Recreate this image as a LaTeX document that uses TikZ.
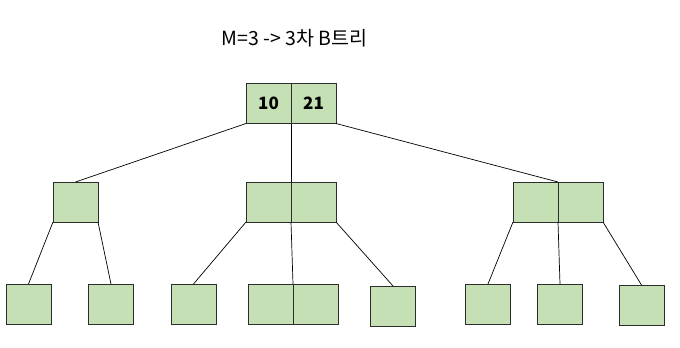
\documentclass[tikz,border=0pt]{standalone}
\usepackage{fontspec}
\setmainfont{Noto Sans CJK KR}
\definecolor{cellgreen}{RGB}{197,224,180}
\definecolor{celledge}{RGB}{45,45,45}
\tikzset{
  cell/.style={draw=celledge, fill=cellgreen, minimum width=45pt, minimum height=40pt,
    inner sep=0pt, outer sep=0pt, line width=0.9pt, font=\fontsize{17}{19}\selectfont\bfseries},
  link/.style={draw=black, line width=0.7pt}
}
\begin{document}
\begin{tikzpicture}[x=1pt,y=-1pt]
\useasboundingbox (0,0) rectangle (680,348);
\node[font=\fontsize{19.5}{22}\selectfont] (title) at (294.5,38.5) {M=3 -> 3차 B트리};
% root
\node[cell] (rA) at (268.5,103.5) {10};
\node[cell] (rB) at (313.5,103.5) {21};
% level 2
\node[cell] (L) at (75.5,202) {};
\node[cell] (MA) at (268.5,202) {};
\node[cell] (MB) at (313.5,202) {};
\node[cell] (RA) at (535.5,202) {};
\node[cell] (RB) at (580.5,202) {};
% leaves
\node[cell] (f1) at (28.5,304) {};
\node[cell] (f2) at (111,304) {};
\node[cell] (f3) at (193.5,304) {};
\node[cell] (f4A) at (270.5,304) {};
\node[cell] (f4B) at (315.5,304) {};
\node[cell] (f5) at (393,306) {};
\node[cell] (f6) at (488,304) {};
\node[cell] (f7) at (560,304) {};
\node[cell] (f8) at (641.5,305) {};
% links
\draw[link] (rA.south west) -- (L.north);
\draw[link] (rA.south east) -- (MA.north east);
\draw[link] (rB.south east) -- (RA.north east);
\draw[link] (L.south west) -- (f1.north);
\draw[link] (L.south east) -- (f2.north);
\draw[link] (MA.south west) -- (f3.north);
\draw[link] (MA.south east) -- (f4A.north east);
\draw[link] (MB.south east) -- (f5.north);
\draw[link] (RA.south west) -- (f6.north);
\draw[link] (RA.south east) -- (f7.north);
\draw[link] (RB.south east) -- (f8.north);
\end{tikzpicture}
\end{document}
